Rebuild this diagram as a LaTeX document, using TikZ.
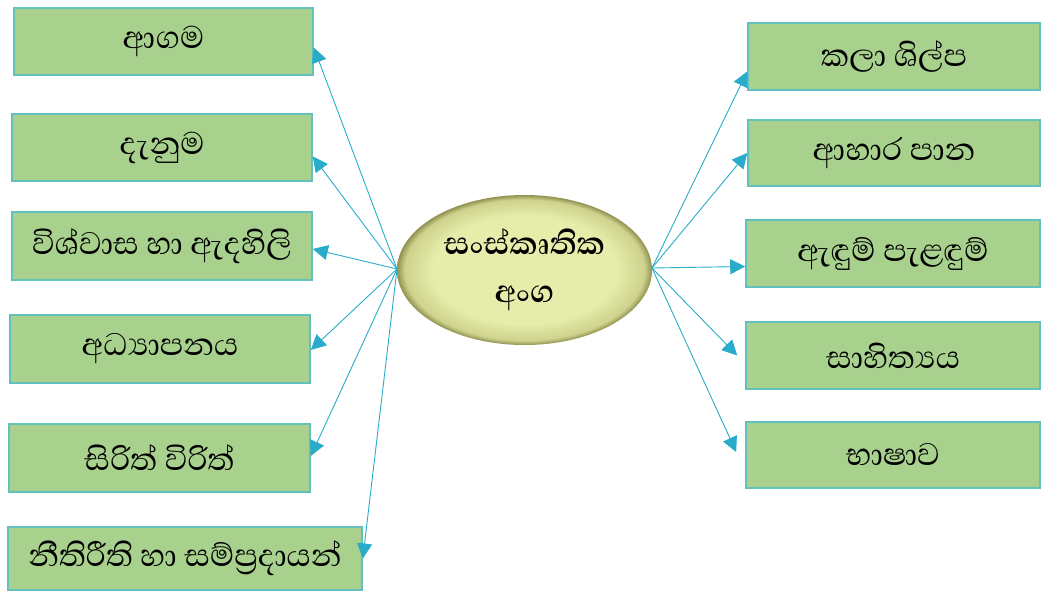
\documentclass[tikz,border=0pt]{standalone}
\usepackage{fontspec}
\usetikzlibrary{arrows.meta,shapes.geometric}
\newfontfamily\sinhfont[Script=Sinhala]{Abhaya Libre}
\definecolor{boxfill}{RGB}{169,209,142}
\definecolor{boxline}{RGB}{100,192,190}
\definecolor{arrowc}{RGB}{40,172,202}
\definecolor{ellin}{RGB}{230,236,170}
\definecolor{ellmid}{RGB}{205,210,140}
\definecolor{ellout}{RGB}{145,145,80}
\pgfdeclareradialshading{ellshade}{\pgfpoint{0bp}{0bp}}{color(0bp)=(ellin); color(18bp)=(ellin); color(23.5bp)=(ellmid); color(25bp)=(ellout); color(50bp)=(ellout)}
\tikzset{
  itembox/.style={draw=boxline, line width=1.6pt, fill=boxfill, rectangle, inner sep=0pt, font=\sinhfont\fontsize{40}{48}\selectfont},
  centreell/.style={ellipse, shading=ellshade, inner sep=0pt, minimum width=255pt, minimum height=150pt, align=center, font=\sinhfont\bfseries\fontsize{40}{48}\selectfont},
  conn/.style={draw=arrowc, line width=0.9pt, -{Triangle[length=15pt,width=15pt]}}
}
\begin{document}
\begin{tikzpicture}[x=1pt,y=-1pt]
\useasboundingbox (0,0) rectangle (1045,592);
% centre
\node[centreell] (c) at (524.5,270) {සංස්කෘතික\\අංග};
\coordinate (cl) at (397,269);
\coordinate (cr) at (652,268);
% left boxes
\node[itembox, minimum width=299pt, minimum height=67pt] (l1) at (163.5,41.5) {ආගම};
\node[itembox, minimum width=300pt, minimum height=67pt] (l2) at (162,147.5) {දැනුම};
\node[itembox, minimum width=300pt, minimum height=68pt] (l3) at (162,246) {විශ්වාස හා ඇදහිලි};
\node[itembox, minimum width=300pt, minimum height=68pt] (l4) at (160,349) {අධ්^^^^200dයාපනය};
\node[itembox, minimum width=301pt, minimum height=68pt] (l5) at (159.5,458) {සිරිත් විරිත්};
\node[itembox, minimum width=354pt, minimum height=63pt] (l6) at (185,558.5) {නීතිරීති හා සම්ප්^^^^200dරදායන්};
% right boxes
\node[itembox, minimum width=292pt, minimum height=67pt] (r1) at (894,56.5) {කලා ශිල්ප};
\node[itembox, minimum width=292pt, minimum height=66pt] (r2) at (894,153) {ආහාර පාන};
\node[itembox, minimum width=294pt, minimum height=67pt] (r3) at (893,253.5) {ඇඳුම් පැළඳුම්};
\node[itembox, minimum width=294pt, minimum height=67pt] (r4) at (893,355.5) {සාහිත්^^^^200dයය};
\node[itembox, minimum width=294pt, minimum height=66pt] (r5) at (893,455) {භාෂාව};
% connectors left
\draw[conn] (cl) -- ([yshift=-6pt]l1.east);
\draw[conn] (cl) -- ([yshift=-9pt]l2.east);
\draw[conn] (cl) -- ([yshift=-3pt]l3.east);
\draw[conn] (cl) -- ([yshift=-1pt]l4.east);
\draw[conn] (cl) -- ([yshift=2pt]l5.east);
\draw[conn] (cl) -- (l6.east);
% connectors right
\draw[conn] (cr) -- ([yshift=-15pt]r1.west);
\draw[conn] (cr) -- (r2.west);
\draw[conn] (cr) -- ([yshift=-13pt]r3.west);
\draw[conn] (cr) -- ([xshift=-8pt]r4.west);
\draw[conn] (cr) -- ([xshift=-9pt,yshift=3pt]r5.west);
\end{tikzpicture}
\end{document}
